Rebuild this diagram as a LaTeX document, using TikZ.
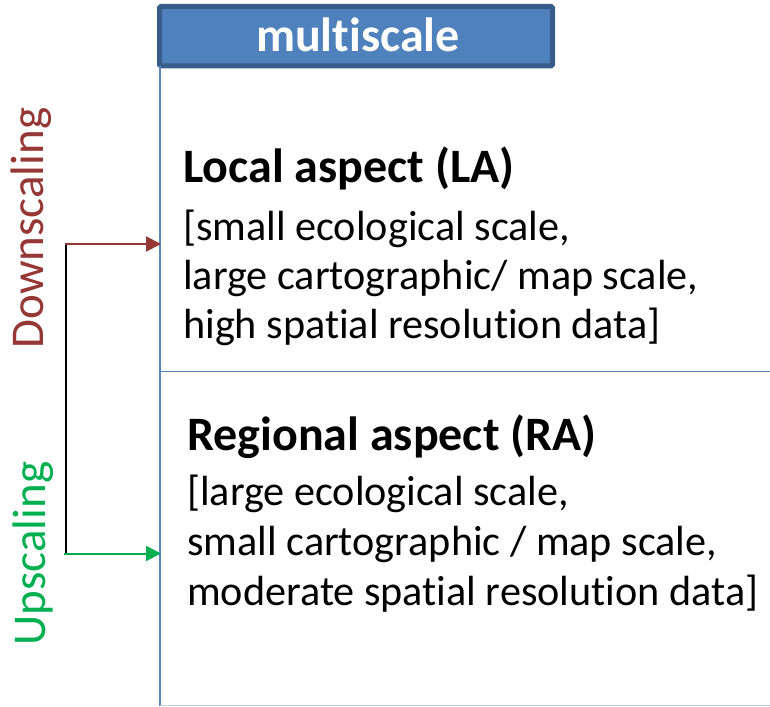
\documentclass[tikz,border=0pt]{standalone}
\usepackage{fontspec}
\setmainfont{Carlito}[Ligatures=NoCommon]
\usetikzlibrary{arrows.meta}

\definecolor{hdrfill}{HTML}{4F81BD}
\definecolor{hdrline}{HTML}{385D8A}
\definecolor{cellline}{HTML}{5B86C0}
\definecolor{downred}{HTML}{953735}
\definecolor{upgreen}{HTML}{00B050}

\tikzset{
  header/.style={draw=hdrline, line width=5pt, fill=hdrfill, rounded corners=1.5pt,
    minimum width=393pt, minimum height=59.5pt, inner sep=0pt},
  headertext/.style={anchor=base, inner sep=0pt, text=white,
    font=\fontsize{48}{56}\selectfont\bfseries},
  celledge/.style={draw=cellline, line width=1.6pt},
  title/.style={anchor=base west, inner sep=0pt, font=\fontsize{48}{56}\selectfont\bfseries},
  body/.style={anchor=base west, inner sep=0pt, font=\fontsize{42.2}{50}\selectfont},
  sidelabel/.style={rotate=90, anchor=base, inner sep=0pt, font=\fontsize{47}{56}\selectfont},
  flow/.style={line width=2pt, -{Triangle[length=15pt,width=15pt]}},
  joiner/.style={draw=black, line width=1.6pt}
}

\begin{document}
\begin{tikzpicture}[x=1pt,y=-1pt]
  \useasboundingbox (0,0) rectangle (770,706);

  % header tab
  \node[header] (header) at (356,36.25) {};
  \node[headertext] (headerText) at (358,52) {multiscale};

  % table cell borders
  \coordinate (colTop) at (160,66);
  \coordinate (colBot) at (160,706);
  \coordinate (sepL) at (160,371.5);
  \coordinate (sepR) at (770,371.5);
  \draw[celledge] (colTop) -- (colBot);
  \draw[celledge] (sepL) -- (sepR);
  \coordinate (baseL) at (160,705);
  \coordinate (baseR) at (770,705);
  \draw[draw=cellline!40, line width=1pt] (baseL) -- (baseR);

  % local aspect cell
  \node[title] (laTitle) at (183,182) {Local aspect (LA)};
  \node[body] (laA) at (183,240) {[small ecological scale,};
  \node[body] (laB) at (183,289) {large cartographic/ map scale,};
  \node[body] (laC) at (183,338) {high spatial resolution data]};

  % regional aspect cell
  \node[title] (raTitle) at (187,450) {Regional aspect (RA)};
  \node[body] (raA) at (187,505) {[large ecological scale,};
  \node[body] (raB) at (187,555) {small cartographic / map scale,};
  \node[body] (raC) at (187,605) {moderate spatial resolution data]};

  % scaling directions
  \node[sidelabel, text=downred] (down) at (43.5,228) {Downscaling};
  \node[sidelabel, text=upgreen] (up) at (45,553.5) {Upscaling};

  \coordinate (jTop) at (66,244);
  \coordinate (jBot) at (66,553.5);
  \coordinate (laIn) at (161,244);
  \coordinate (raIn) at (161,553.5);
  \draw[joiner] (jTop) -- (jBot);
  \draw[flow, draw=downred, fill=downred] ([xshift=-1pt]jTop) -- (laIn);
  \draw[flow, draw=upgreen, fill=upgreen] ([xshift=-2pt]jBot) -- (raIn);
\end{tikzpicture}
\end{document}
